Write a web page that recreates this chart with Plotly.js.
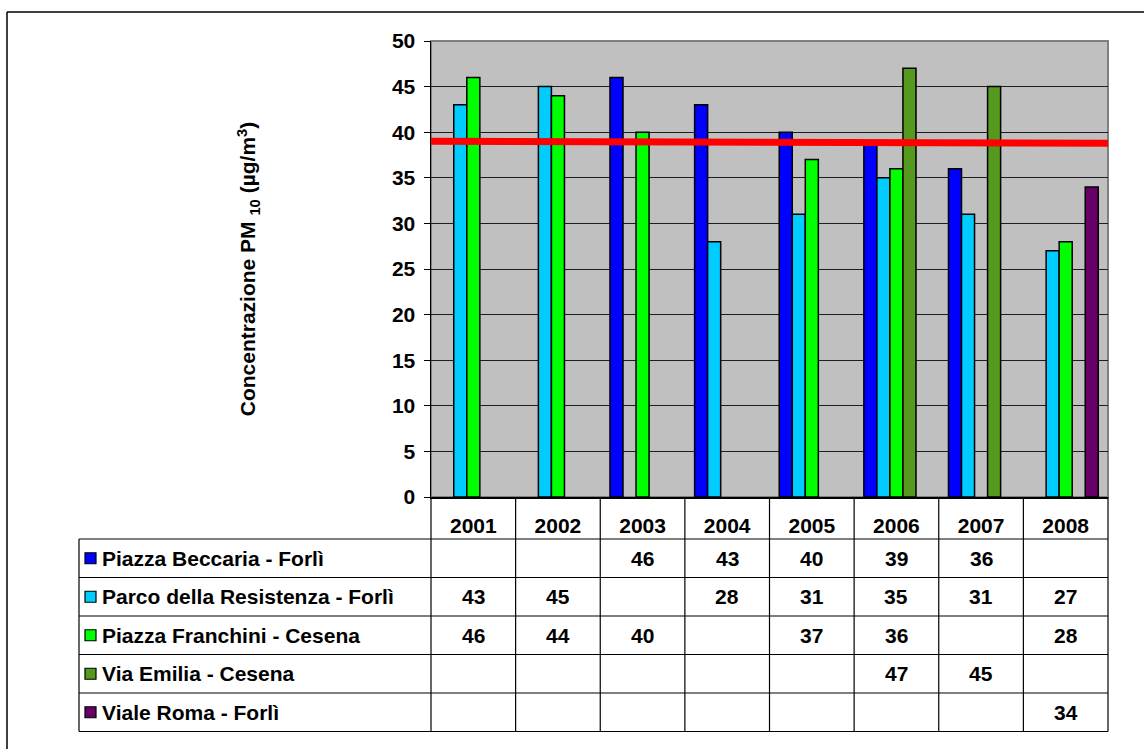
<!DOCTYPE html>
<html>
<head>
<meta charset="utf-8">
<script src="https://cdn.plot.ly/plotly-3.0.1.min.js"></script>
<style>
  html, body { margin: 0; padding: 0; background: #ffffff; }
  #chart { width: 1144px; height: 749px; }
</style>
</head>
<body>
<div id="chart"></div>
<script>
// ---------- DATA ----------
const years = ['2001', '2002', '2003', '2004', '2005', '2006', '2007', '2008'];
const seriesNames = [
  'Piazza Beccaria - Forlì',
  'Parco della Resistenza - Forlì',
  'Piazza Franchini - Cesena',
  'Via Emilia - Cesena',
  'Viale Roma - Forlì'
];
const piazzaBeccaria   = [null, null, 46, 43, 40, 39, 36, null];
const parcoResistenza  = [43, 45, null, 28, 31, 35, 31, 27];
const piazzaFranchini  = [46, 44, 40, null, 37, 36, null, 28];
const viaEmilia        = [null, null, null, null, null, 47, 45, null];
const vialeRoma        = [null, null, null, null, null, null, null, 34];
const limitLine        = [39, 38.8];   // red reference line (start, end)
const yTitle = 'Concentrazione PM <sub>10</sub> (µg/m<sup>3</sup>)';

// ---------- STYLE ----------
const seriesColors = ['#0000FF', '#00CCFF', '#00FF00', '#559A1E', '#660066'];
const allSeries = [piazzaBeccaria, parcoResistenza, piazzaFranchini, viaEmilia, vialeRoma];
const FONT = 'Liberation Sans, Arial, sans-serif';

// plot area geometry (px)
const PL = 431, PW = 677, PT = 41, PH = 456, W = 1144, H = 749;
const xp = px => (px - PL) / PW;
const yp = py => (PT + PH - py) / PH;

// table geometry (px)
const headerBottom = 539, rowH = 38.5, tableLeft = 79;
const nRows = seriesNames.length;
const tableBottom = headerBottom + nRows * rowH;

const traces = allSeries.map((vals, s) => ({
  type: 'bar',
  name: seriesNames[s],
  x: years,
  y: vals,
  marker: { color: seriesColors[s], line: { color: '#000000', width: 1.5 } },
  hoverinfo: 'x+y+name'
}));

const shapes = [];
const annotations = [];

// plot area gray border (top/right)
shapes.push({ type: 'rect', xref: 'paper', yref: 'paper', x0: 0, x1: 1, y0: 0, y1: 1,
  line: { color: '#808080', width: 2 }, layer: 'below' });

// red limit line
shapes.push({ type: 'line', xref: 'paper', yref: 'y', x0: 0, x1: 1,
  y0: limitLine[0], y1: limitLine[1], line: { color: '#FF0000', width: 7 } });

// outer frame (top + left)
shapes.push({ type: 'line', xref: 'paper', yref: 'paper', x0: xp(7), x1: xp(W + 5), y0: yp(12), y1: yp(12),
  line: { color: '#000000', width: 1.5 } });
shapes.push({ type: 'line', xref: 'paper', yref: 'paper', x0: xp(7), x1: xp(7), y0: yp(12), y1: yp(H + 5),
  line: { color: '#000000', width: 1.5 } });

// table vertical column borders
for (let i = 0; i <= years.length; i++) {
  const xx = i / years.length;
  shapes.push({ type: 'line', xref: 'paper', yref: 'paper', x0: xx, x1: xx,
    y0: 0, y1: yp(tableBottom), line: { color: '#000000', width: 1.2 } });
}
// left border of label column
shapes.push({ type: 'line', xref: 'paper', yref: 'paper', x0: xp(tableLeft), x1: xp(tableLeft),
  y0: yp(headerBottom), y1: yp(tableBottom), line: { color: '#000000', width: 1.2 } });
// horizontal row lines
for (let r = 0; r <= nRows; r++) {
  const yy = yp(headerBottom + r * rowH);
  shapes.push({ type: 'line', xref: 'paper', yref: 'paper', x0: xp(tableLeft), x1: 1,
    y0: yy, y1: yy, line: { color: '#000000', width: 1.2 } });
}

// row labels, legend keys, values
for (let s = 0; s < nRows; s++) {
  const cy = headerBottom + (s + 0.5) * rowH;
  shapes.push({ type: 'rect', xref: 'paper', yref: 'paper',
    x0: xp(85), x1: xp(96), y0: yp(cy - 5.5), y1: yp(cy + 5.5),
    fillcolor: seriesColors[s], line: { color: '#000000', width: 1.2 } });
  annotations.push({ xref: 'paper', yref: 'paper', x: xp(100), y: yp(cy),
    xanchor: 'left', yanchor: 'middle', showarrow: false, text: seriesNames[s],
    font: { family: FONT, size: 21, weight: 'bold', color: '#000000' } });
  allSeries[s].forEach((v, i) => {
    if (v === null) return;
    annotations.push({ xref: 'paper', yref: 'paper', x: (i + 0.5) / years.length, y: yp(cy),
      xanchor: 'center', yanchor: 'middle', showarrow: false, text: String(v),
      font: { family: FONT, size: 21, weight: 'bold', color: '#000000' } });
  });
}

const layout = {
  width: W, height: H,
  margin: { l: PL, r: W - PL - PW, t: PT, b: H - PT - PH, pad: 0 },
  paper_bgcolor: '#FFFFFF',
  plot_bgcolor: '#C0C0C0',
  showlegend: false,
  barmode: 'group',
  bargap: 0.23,
  bargroupgap: 0,
  xaxis: {
    type: 'category', range: [-0.5, years.length - 0.5],
    showgrid: false, zeroline: false,
    showline: true, linecolor: '#000000', linewidth: 1.5,
    ticks: '', ticklabelstandoff: 9,
    tickfont: { family: FONT, size: 21, weight: 'bold', color: '#000000' },
    fixedrange: true
  },
  yaxis: {
    range: [0, 50], tick0: 0, dtick: 5,
    showgrid: true, gridcolor: '#1E1E1E', gridwidth: 1,
    zeroline: false,
    showline: true, linecolor: '#000000', linewidth: 1.5,
    ticks: 'outside', ticklen: 6, tickcolor: '#000000', tickwidth: 1,
    ticklabelstandoff: 4,
    tickfont: { family: FONT, size: 21, weight: 'bold', color: '#000000' },
    title: { text: yTitle, standoff: 130,
      font: { family: FONT, size: 21, weight: 'bold', color: '#000000' } },
    automargin: false,
    fixedrange: true
  },
  shapes: shapes,
  annotations: annotations
};

Plotly.newPlot('chart', traces, layout, { displayModeBar: false, staticPlot: true });
</script>
</body>
</html>
